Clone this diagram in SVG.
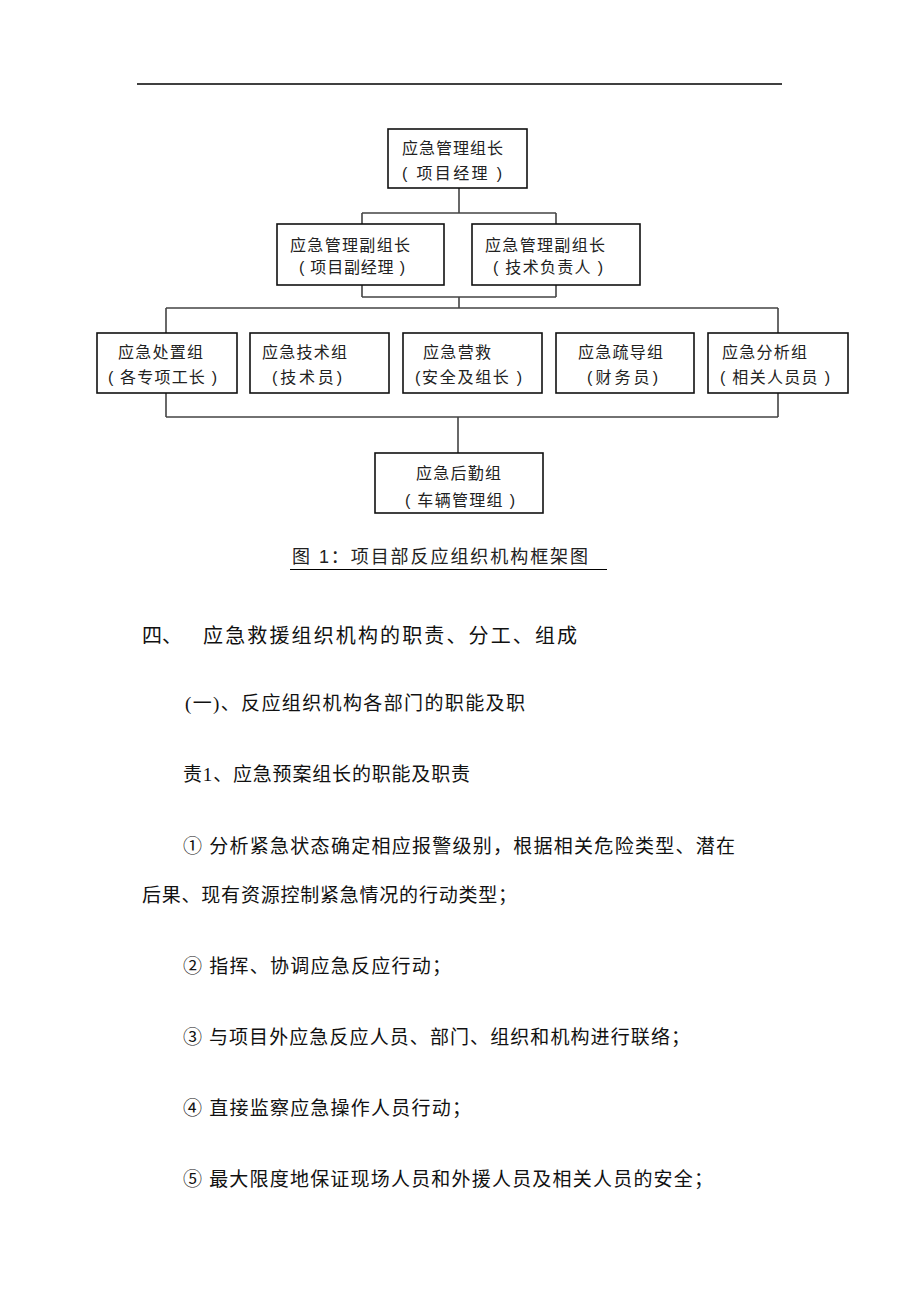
<svg xmlns="http://www.w3.org/2000/svg" width="920" height="1303" viewBox="0 0 920 1303">
<style>
.bg{fill:#ffffff}
.box{fill:#ffffff;stroke:#111;stroke-width:1.6}
.conn{fill:none;stroke:#444;stroke-width:1.6}
.rule{stroke:#000;stroke-width:1.5}
.ct{font-family:"Liberation Sans","Noto Sans CJK SC",sans-serif;font-size:16px;fill:#222}
.cap{font-family:"Liberation Sans","Noto Sans CJK SC",sans-serif;font-size:18px;fill:#222}
.body{font-family:"Liberation Serif","Noto Sans CJK SC",serif;font-size:19px;fill:#111}
.head{font-family:"Liberation Serif","Noto Sans CJK SC",serif;font-size:20px;fill:#111}
</style>
<rect class="bg" x="0" y="0" width="920" height="1303"/>
<line class="rule" x1="137" y1="84" x2="782" y2="84"/>

<g id="connectors">
<path class="conn" d="M459 188 V213 M362 213 H556 M362 213 V224 M556 213 V224"/>
<path class="conn" d="M362 285 V297 M556 285 V297 M362 297 H556 M459 297 V308 M166 308 H778 M166 308 V333 M778 308 V333"/>
<path class="conn" d="M166 393 V417 M166 417 H778 M778 393 V417 M458 417 V453"/>
</g>

<g id="n_leader">
<rect class="box" x="388" y="129" width="139" height="59"/>
<text class="ct" x="402" y="154" textLength="101" lengthAdjust="spacing">应急管理组长</text>
<text class="ct" x="402" y="179" textLength="100" lengthAdjust="spacing">( 项目经理 )</text>
</g>
<g id="n_deputy1">
<rect class="box" x="277" y="224" width="167" height="61"/>
<text class="ct" x="290" y="251" textLength="120" lengthAdjust="spacing">应急管理副组长</text>
<text class="ct" x="299" y="273" textLength="106" lengthAdjust="spacing">( 项目副经理 )</text>
</g>
<g id="n_deputy2">
<rect class="box" x="472" y="224" width="168" height="61"/>
<text class="ct" x="485" y="251" textLength="120" lengthAdjust="spacing">应急管理副组长</text>
<text class="ct" x="493" y="273" textLength="110" lengthAdjust="spacing">( 技术负责人 )</text>
</g>
<g id="n_g1">
<rect class="box" x="97" y="333" width="140" height="60"/>
<text class="ct" x="118" y="358" textLength="85" lengthAdjust="spacing">应急处置组</text>
<text class="ct" x="108" y="383" textLength="109" lengthAdjust="spacing">( 各专项工长 )</text>
</g>
<g id="n_g2">
<rect class="box" x="250" y="333" width="139" height="60"/>
<text class="ct" x="262" y="358" textLength="85" lengthAdjust="spacing">应急技术组</text>
<text class="ct" x="272" y="383" textLength="70" lengthAdjust="spacing">(技术员)</text>
</g>
<g id="n_g3">
<rect class="box" x="403" y="333" width="139" height="60"/>
<text class="ct" x="423" y="358" textLength="68" lengthAdjust="spacing">应急营救</text>
<text class="ct" x="415" y="383" textLength="107" lengthAdjust="spacing">(安全及组长 )</text>
</g>
<g id="n_g4">
<rect class="box" x="556" y="333" width="138" height="60"/>
<text class="ct" x="578" y="358" textLength="85" lengthAdjust="spacing">应急疏导组</text>
<text class="ct" x="587" y="383" textLength="71" lengthAdjust="spacing">(财务员)</text>
</g>
<g id="n_g5">
<rect class="box" x="708" y="333" width="140" height="60"/>
<text class="ct" x="722" y="358" textLength="85" lengthAdjust="spacing">应急分析组</text>
<text class="ct" x="720" y="383" textLength="110" lengthAdjust="spacing">( 相关人员员 )</text>
</g>
<g id="n_g6">
<rect class="box" x="375" y="453" width="168" height="60"/>
<text class="ct" x="416" y="479" textLength="85" lengthAdjust="spacing">应急后勤组</text>
<text class="ct" x="405" y="506" textLength="110" lengthAdjust="spacing">( 车辆管理组 )</text>
</g>

<text class="cap" x="292" y="563" textLength="296" lengthAdjust="spacing">图 1：项目部反应组织机构框架图</text>
<line class="rule" x1="290" y1="569.5" x2="607" y2="569.5" style="stroke-width:1.2"/>

<text class="head" x="142" y="643">四、</text>
<text class="head" x="203" y="643" textLength="374" lengthAdjust="spacing">应急救援组织机构的职责、分工、组成</text>

<text class="body" x="185" y="710" textLength="340" lengthAdjust="spacing">(一)、反应组织机构各部门的职能及职</text>
<text class="body" x="183" y="781" textLength="287" lengthAdjust="spacing">责1、应急预案组长的职能及职责</text>
<text class="body" x="183" y="853" textLength="552" lengthAdjust="spacing">① 分析紧急状态确定相应报警级别，根据相关危险类型、潜在</text>
<text class="body" x="142" y="902" textLength="375" lengthAdjust="spacing">后果、现有资源控制紧急情况的行动类型；</text>
<text class="body" x="183" y="973" textLength="268" lengthAdjust="spacing">② 指挥、协调应急反应行动；</text>
<text class="body" x="183" y="1044" textLength="507" lengthAdjust="spacing">③ 与项目外应急反应人员、部门、组织和机构进行联络；</text>
<text class="body" x="183" y="1115" textLength="288" lengthAdjust="spacing">④ 直接监察应急操作人员行动；</text>
<text class="body" x="183" y="1186" textLength="530" lengthAdjust="spacing">⑤ 最大限度地保证现场人员和外援人员及相关人员的安全；</text>
</svg>
